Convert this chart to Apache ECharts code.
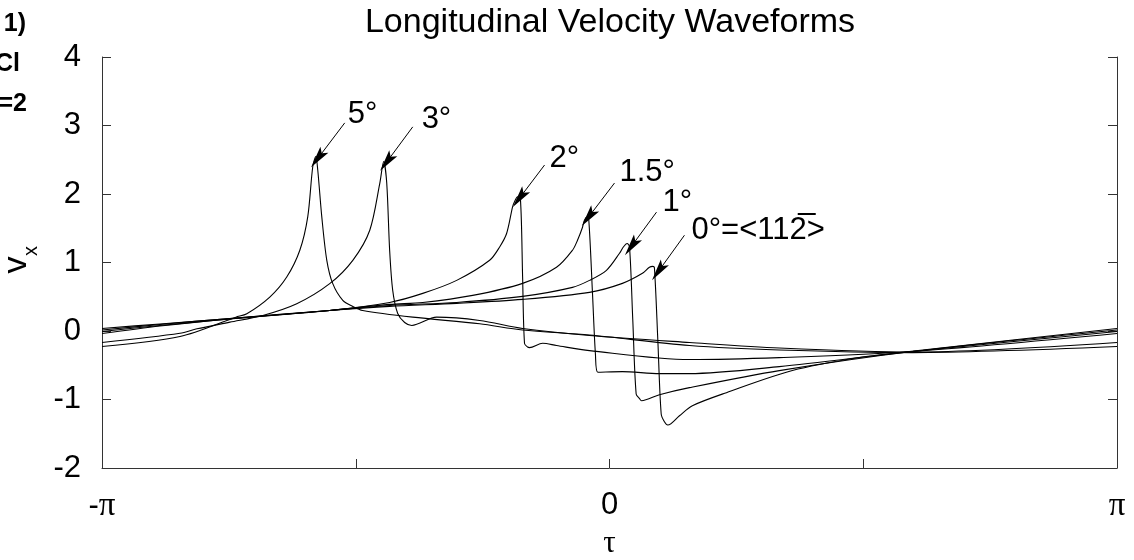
<!DOCTYPE html>
<html><head><meta charset="utf-8">
<script src="https://cdn.jsdelivr.net/npm/echarts@6/dist/echarts.min.js"></script>
<style>html,body{margin:0;padding:0;background:#fff}#c{width:1134px;height:560px}</style>
</head><body><div id="c"></div>
<script>
const PI = Math.PI;
const SANS = "'Liberation Sans', Arial, sans-serif";
const SERIF = "'Liberation Serif', 'Times New Roman', serif";

const titleText = 'Longitudinal Velocity Waveforms';
const xTickLabels = ['-π', '', '0', '', 'π'];
const xName = 'τ';
const cornerTexts = ['1)', 'Cl', '=2'];

const seriesNames = ['5°', '3°', '2°', '1.5°', '1°', '0°=<11' + '2\u0305' + '>'];

// τ (radians) and v_x values
const tau5 = [-PI, -2.659, -2.313, -2.245, -2.103, -1.998, -1.917, -1.868, -1.837, -1.818, -1.806, -1.781, -1.750, -1.713, -1.651, -1.589, -1.528, -1.218, -0.804, -0.538, -0.124, 0.495, 1.051, 1.874, PI];
const v5   = [-0.227, -0.081, 0.202, 0.252, 0.495, 0.788, 1.179, 1.666, 2.398, 2.548, 2.350, 1.666, 1.032, 0.691, 0.447, 0.359, 0.300, 0.202, 0.105, 0.015, -0.059, -0.212, -0.278, -0.315, -0.227];

const tau3 = [-PI, -2.659, -2.554, -2.350, -2.146, -1.936, -1.732, -1.589, -1.484, -1.422, -1.398, -1.379, -1.361, -1.342, -1.311, -1.268, -1.224, -1.070, -0.804, -0.538, -0.124, 0.495, 1.051, 1.874, PI];
const v3   = [-0.168, -0.032, 0.032, 0.129, 0.227, 0.398, 0.691, 1.032, 1.471, 2.155, 2.474, 2.160, 1.179, 0.593, 0.256, 0.124, 0.081, 0.202, 0.154, 0.037, -0.066, -0.168, -0.249, -0.307, -0.168];

const tau2 = [-PI, -2.783, -2.350, -1.732, -1.361, -1.156, -0.946, -0.742, -0.680, -0.637, -0.600, -0.588, -0.569, -0.551, -0.538, -0.526, -0.507, -0.495, -0.414, -0.328, -0.124, 0.495, 1.051, 1.874, PI];
const v2   = [-0.037, 0.073, 0.176, 0.300, 0.417, 0.549, 0.739, 1.032, 1.227, 1.423, 1.813, 1.886, 1.959, 1.911, 0.800, -0.183, -0.234, -0.242, -0.179, -0.212, -0.286, -0.417, -0.388, -0.300, -0.037];

const tau15 = [-PI, -2.783, -2.350, -1.732, -1.361, -1.156, -0.847, -0.538, -0.328, -0.229, -0.198, -0.167, -0.155, -0.139, -0.128, -0.105, -0.087, -0.072, 0.080, 0.309, 0.495, 1.051, 1.874, PI];
const v15   = [-0.007, 0.081, 0.176, 0.300, 0.388, 0.417, 0.520, 0.695, 0.930, 1.179, 1.325, 1.515, 1.618, 1.662, 1.618, 0.535, -0.344, -0.603, -0.593, -0.622, -0.622, -0.520, -0.300, -0.007];

const tau1 = [-PI, -2.783, -2.350, -1.732, -1.361, -0.946, -0.538, -0.229, -0.124, -0.019, 0.062, 0.087, 0.109, 0.124, 0.144, 0.165, 0.186, 0.198, 0.309, 0.495, 1.051, 1.874, PI];
const v1   = [0.015, 0.095, 0.183, 0.300, 0.373, 0.417, 0.505, 0.637, 0.739, 0.886, 1.135, 1.230, 1.277, 1.227, 0.168, -0.919, -0.988, -1.018, -0.930, -0.827, -0.578, -0.300, 0.015];

const tau0 = [-PI, -2.783, -2.350, -1.732, -1.361, -0.946, -0.538, -0.124, 0.080, 0.204, 0.247, 0.268, 0.278, 0.299, 0.320, 0.340, 0.361, 0.433, 0.513, 0.724, 1.132, 1.546, 1.855, PI];
const v0   = [0.037, 0.103, 0.183, 0.300, 0.359, 0.403, 0.461, 0.564, 0.695, 0.842, 0.930, 0.944, 0.925, -0.124, -1.212, -1.325, -1.373, -1.237, -1.091, -0.900, -0.578, -0.388, -0.300, 0.037];

const tauSets = [tau5, tau3, tau2, tau15, tau1, tau0];
const vSets = [v5, v3, v2, v15, v1, v0];

// annotation anchors (data coordinates): label left/middle, arrow tail, arrow tip
const labelAt  = [[-1.620, 3.155], [-1.163, 3.082], [-0.371, 2.520], [0.062, 2.321], [0.328, 1.881], [0.507, 1.471]];
const arrowTail = [[-1.639, 3.038], [-1.218, 2.980], [-0.402, 2.423], [0.031, 2.160], [0.291, 1.735], [0.464, 1.398]];
const arrowTip  = [[-1.806, 2.518], [-1.379, 2.467], [-0.557, 1.940], [-0.130, 1.662], [0.136, 1.237], [0.303, 0.871]];

const yMin = -2, yMax = 4, yStep = 1;

const chart = echarts.init(document.getElementById('c'), null, {renderer: 'canvas'});

const lineSeries = seriesNames.map((name, i) => ({
  name: name,
  type: 'line',
  data: tauSets[i].map((t, k) => [t, vSets[i][k]]),
  showSymbol: false,
  smooth: 0.3,
  lineStyle: {color: '#000', width: 1.1},
  itemStyle: {color: '#000'},
  silent: true,
  z: 3,
  markLine: {
    silent: true,
    animation: false,
    label: {show: false},
    lineStyle: {color: '#000', width: 1, type: 'solid'},
    data: [[
      {coord: arrowTail[i], symbol: 'none'},
      {coord: arrowTip[i], symbol: 'path://M0,0 L5,20 L0,16 L-5,20 Z', symbolSize: [10, 22]}
    ]]
  }
}));

const labelSeries = {
  type: 'scatter',
  symbolSize: 0,
  silent: true,
  itemStyle: {opacity: 1, color: '#000'},
  data: labelAt.map((p, i) => [p[0], p[1], seriesNames[i]]),
  label: {
    show: true, position: 'right', distance: 0, opacity: 1,
    textBorderWidth: 0,
    formatter: p => p.data[2],
    color: '#000', fontSize: 31, fontFamily: SANS
  },
  z: 5
};

const option = {
  animation: false,
  backgroundColor: '#fff',
  grid: {left: 102, right: 17, top: 57, bottom: 92, containLabel: false, outerBoundsMode: 'none'},
  xAxis: {
    type: 'value', min: -PI, max: PI, interval: PI / 2,
    name: xName, nameLocation: 'middle', nameGap: 52,
    nameTextStyle: {fontFamily: SERIF, fontSize: 31, color: '#000'},
    axisLine: {show: true, onZero: false, lineStyle: {color: '#333', width: 1}},
    axisTick: {show: true, inside: true, length: 9, lineStyle: {color: '#333', width: 1}},
    splitLine: {show: false},
    axisLabel: {
      margin: 22, color: '#000', fontSize: 31, fontFamily: SANS,
      formatter: (val, idx) => (xTickLabels[idx] || '').replace(/π/g, '{p|π}'),
      rich: {p: {fontFamily: SERIF, fontSize: 33, color: '#000'}}
    }
  },
  yAxis: [{
    type: 'value', min: yMin, max: yMax, interval: yStep, position: 'left',
    axisLine: {show: true, onZero: false, lineStyle: {color: '#333', width: 1}},
    axisTick: {show: true, inside: true, length: 9, lineStyle: {color: '#333', width: 1}},
    splitLine: {show: false},
    axisLabel: {margin: 21, color: '#000', fontSize: 31, fontFamily: SANS}
  }, {
    type: 'value', min: yMin, max: yMax, interval: yStep, position: 'right',
    axisLine: {show: true, onZero: false, lineStyle: {color: '#333', width: 1}},
    axisTick: {show: true, inside: true, length: 9, lineStyle: {color: '#333', width: 1}},
    splitLine: {show: false},
    axisLabel: {show: false}
  }],
  graphic: [
    {type: 'text', x: 610, y: 23, silent: true,
     style: {text: titleText, fill: '#000', font: '34px ' + SANS, align: 'center', verticalAlign: 'middle', textAlign: 'center', textVerticalAlign: 'middle'}},
    {type: 'group', x: 17, y: 265, rotation: PI / 2, silent: true, children: [
      {type: 'text', x: 0, y: 0, style: {text: 'v', fill: '#000', font: '34px ' + SANS, align: 'center', verticalAlign: 'middle', textAlign: 'center', textVerticalAlign: 'middle'}},
      {type: 'text', x: 14, y: 14, style: {text: 'x', fill: '#000', font: '20px ' + SANS, align: 'center', verticalAlign: 'middle', textAlign: 'center', textVerticalAlign: 'middle'}}
    ]},
    {type: 'text', x: 26, y: 24, silent: true, style: {text: cornerTexts[0], fill: '#000', font: 'bold 25px ' + SANS, align: 'right', verticalAlign: 'middle', textAlign: 'right', textVerticalAlign: 'middle'}},
    {type: 'text', x: 20, y: 64, silent: true, style: {text: cornerTexts[1], fill: '#000', font: 'bold 25px ' + SANS, align: 'right', verticalAlign: 'middle', textAlign: 'right', textVerticalAlign: 'middle'}},
    {type: 'text', x: 27, y: 104, silent: true, style: {text: cornerTexts[2], fill: '#000', font: 'bold 25px ' + SANS, align: 'right', verticalAlign: 'middle', textAlign: 'right', textVerticalAlign: 'middle'}}
  ],
  series: lineSeries.concat([labelSeries])
};
chart.setOption(option);
</script>
</body></html>
